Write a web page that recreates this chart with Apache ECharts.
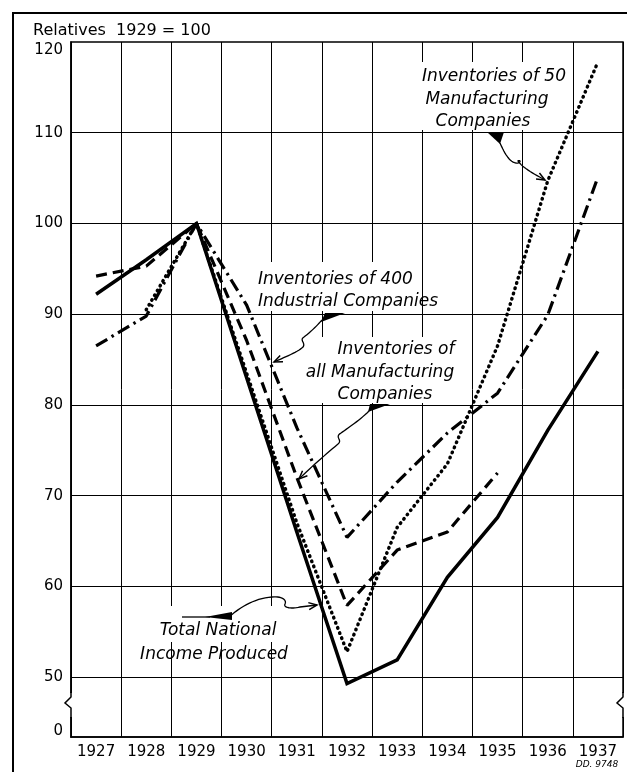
<!DOCTYPE html>
<html><head><meta charset="utf-8">
<script src="https://cdn.jsdelivr.net/npm/echarts@6/dist/echarts.min.js"></script>
<style>html,body{margin:0;padding:0;background:#fff}#c{width:627px;height:772px}</style>
</head><body><div id="c"></div>
<script>
// ---- data ----
const years = ['1927','1928','1929','1930','1931','1932','1933','1934','1935','1936','1937'];
const nationalIncome = [92.2, 96.0, 100, 83.0, 66.0, 49.3, 51.9, 61.0, 67.6, 77.2, 85.9];
const inv50Mfg      = [null, 90.5, 100, 83.5, 67.0, 52.8, 66.5, 73.5, 86.5, 104.7, 117.8];
const invAllMfg     = [94.2, 95.3, 100, 87.1, 72.0, 57.9, 64.0, 66.0, 72.5, null, null];
const inv400Ind     = [86.5, 89.8, 100, 91.0, 77.5, 65.4, 71.5, 76.9, 81.3, 89.9, 105.1];
const yTickValues = [43.4, 50, 60, 70, 80, 90, 100, 110, 120];
const yTickLabels = ['0', '50', '60', '70', '80', '90', '100', '110', '120'];
const yGridValues = [50, 60, 70, 80, 90, 100, 110];
const titleText = 'Relatives  1929 = 100';

// ---- chart ----
const chart = echarts.init(document.getElementById('c'), null, {renderer: 'canvas'});
const FONT = 'DejaVu Sans';
const ITAL = 'italic 17px "DejaVu Sans"';

function arrowHead(tip, from, len, ang) {
  const dx = from[0] - tip[0], dy = from[1] - tip[1];
  const l = Math.hypot(dx, dy), ux = dx / l, uy = dy / l;
  const r = a => [tip[0] + len * (ux * Math.cos(a) - uy * Math.sin(a)),
                  tip[1] + len * (ux * Math.sin(a) + uy * Math.cos(a))];
  return [r(ang), tip, r(-ang)];
}
// start point + cubic segments [c1x,c1y,c2x,c2y,x,y] (or [x,y] for straight) -> sampled points
function curvePoints(start, segs) {
  const pts = [start.slice()];
  let p = start.slice();
  segs.forEach(s => {
    if (s.length === 2) { pts.push(s.slice()); p = s.slice(); return; }
    for (let i = 1; i <= 14; i++) {
      const t = i / 14, mt = 1 - t;
      pts.push([
        mt*mt*mt*p[0] + 3*mt*mt*t*s[0] + 3*mt*t*t*s[2] + t*t*t*s[4],
        mt*mt*mt*p[1] + 3*mt*mt*t*s[1] + 3*mt*t*t*s[3] + t*t*t*s[5]
      ]);
    }
    p = [s[4], s[5]];
  });
  return pts;
}
function callout(wedge, start, segs) {
  const pts = curvePoints(start, segs);
  const tip = pts[pts.length - 1], from = pts[pts.length - 4];
  return [
    {type: 'polygon', z: 3, shape: {points: wedge}, style: {fill: '#000'}},
    {type: 'polyline', z: 3, shape: {points: pts}, style: {fill: null, stroke: '#000', lineWidth: 1.3}},
    {type: 'polyline', z: 3, shape: {points: arrowHead(tip, from, 9, 0.4)}, style: {fill: null, stroke: '#000', lineWidth: 1.5}}
  ];
}
function box(x, y, w, h) {
  return {type: 'rect', z: 1, shape: {x: x, y: y, width: w, height: h}, style: {fill: '#fff'}};
}
function label(text, x, y, align) {
  return {type: 'text', z: 3, style: {text: text, x: x, y: y, align: align || 'center', verticalAlign: 'middle',
    font: ITAL, fill: '#000'}};
}

const option = {
  animation: false,
  backgroundColor: '#fff',
  grid: {left: 71, right: 4, top: 42, bottom: 35, show: true, borderColor: '#000', borderWidth: 1.5, backgroundColor: 'transparent'},
  xAxis: {
    type: 'category', data: years, boundaryGap: true,
    axisLine: {lineStyle: {color: '#000', width: 1.5}},
    axisTick: {show: false},
    axisLabel: {color: '#000', fontSize: 15, fontFamily: FONT, margin: 8},
    splitLine: {show: true, lineStyle: {color: '#000', width: 1}}
  },
  yAxis: {
    type: 'value', min: yTickValues[0], max: yTickValues[yTickValues.length - 1],
    axisLine: {show: true, lineStyle: {color: '#000', width: 1.5}},
    axisTick: {show: false, customValues: yTickValues},
    splitLine: {show: false},
    axisLabel: {color: '#000', fontSize: 15, fontFamily: FONT, margin: 8, customValues: yTickValues,
      formatter: v => {
        const i = yTickValues.indexOf(v);
        if (i < 0) return '';
        if (i === 0) return '{bot|' + yTickLabels[i] + '}';
        if (i === yTickValues.length - 1) return '{top|' + yTickLabels[i] + '}';
        return yTickLabels[i];
      },
      rich: {
        top: {padding: [16, 0, 0, 0], fontSize: 15, fontFamily: FONT, color: '#000'},
        bot: {padding: [0, 0, 12, 0], fontSize: 15, fontFamily: FONT, color: '#000'}
      }}
  },
  series: [
    {type: 'line', data: years.map(() => null), z: 0, silent: true,
     markLine: {silent: true, symbol: 'none', z: 0, label: {show: false},
       lineStyle: {color: '#000', width: 1, type: 'solid'},
       data: yGridValues.map(v => ({yAxis: v}))}},
    {name: 'Total National Income Produced', type: 'line', data: nationalIncome, symbol: 'none', z: 2,
     lineStyle: {color: '#000', width: 3.5, join: 'miter'}},
    {name: 'Inventories of 50 Manufacturing Companies', type: 'line', data: inv50Mfg, symbol: 'none', z: 2,
     lineStyle: {color: '#000', width: 3.5, type: [0.5, 5], cap: 'round'}},
    {name: 'Inventories of all Manufacturing Companies', type: 'line', data: invAllMfg, symbol: 'none', z: 2,
     lineStyle: {color: '#000', width: 3.2, type: [11, 6]}},
    {name: 'Inventories of 400 Industrial Companies', type: 'line', data: inv400Ind, symbol: 'none', z: 2,
     lineStyle: {color: '#000', width: 3.2, type: [13, 5, 2.5, 5]}}
  ],
  graphic: [].concat(
    [{type: 'polyline', z: 3, shape: {points: [[13, 772], [13, 13], [627, 13]]}, style: {fill: null, stroke: '#000', lineWidth: 2}}],
    [{type: 'text', z: 3, style: {text: titleText, x: 33, y: 31, verticalAlign: 'middle', font: '16px "DejaVu Sans"', fill: '#000'}}],
    [box(60, 693, 16, 24), box(614, 693, 16, 24),
     {type: 'polyline', z: 3, shape: {points: [[71, 692], [71, 697], [65, 703], [71, 708], [71, 718]]}, style: {fill: null, stroke: '#000', lineWidth: 1.5}},
     {type: 'polyline', z: 3, shape: {points: [[623, 692], [623, 697], [617, 703], [623, 708], [623, 718]]}, style: {fill: null, stroke: '#000', lineWidth: 1.5}}],
    [box(420, 62, 148, 68), box(254, 262, 168, 49), box(308, 337, 148, 66), box(140, 606, 148, 36)],
    [label('Inventories of 50', 494, 77), label('Manufacturing', 487, 100), label('Companies', 483, 122)],
    [label('Inventories of 400', 258, 280, 'left'), label('Industrial Companies', 258, 302, 'left')],
    [label('Inventories of', 396, 350), label('all Manufacturing', 380, 373), label('Companies', 385, 395)],
    [label('Total National', 218, 631), label('Income Produced', 214, 655)],
    [{type: 'text', z: 3, style: {text: 'DD. 9748', x: 597, y: 765, align: 'center', verticalAlign: 'middle', font: 'italic 9px "DejaVu Sans"', fill: '#000'}}],
    callout([[487, 132], [504, 132], [500, 144]], [500, 143], [[504, 152, 509, 162, 516, 163], [521, 164, 521, 159, 518, 161], [522, 167, 532, 173, 545, 180]]),
    callout([[325, 313], [345, 313], [321, 322]], [322, 320], [[315, 328, 308, 334, 304, 337], [299, 340, 306, 343, 303, 347], [298, 352, 285, 357, 274, 362]]),
    callout([[370, 404], [390, 404], [368, 412]], [369, 411], [[360, 420, 348, 428, 341, 433], [334, 437, 343, 440, 338, 444], [325, 455, 310, 468, 299, 479]]),
    callout([[205, 617], [232, 612], [232, 620]], [230, 616], [[242, 606, 256, 598, 272, 597], [282, 596, 287, 600, 285, 604], [283, 608, 292, 609, 300, 607], [317, 605]]),
    [{type: 'line', z: 3, shape: {x1: 182, y1: 617, x2: 210, y2: 617}, style: {stroke: '#000', lineWidth: 1.3}}]
  )
};
chart.setOption(option);
</script>
</body></html>
